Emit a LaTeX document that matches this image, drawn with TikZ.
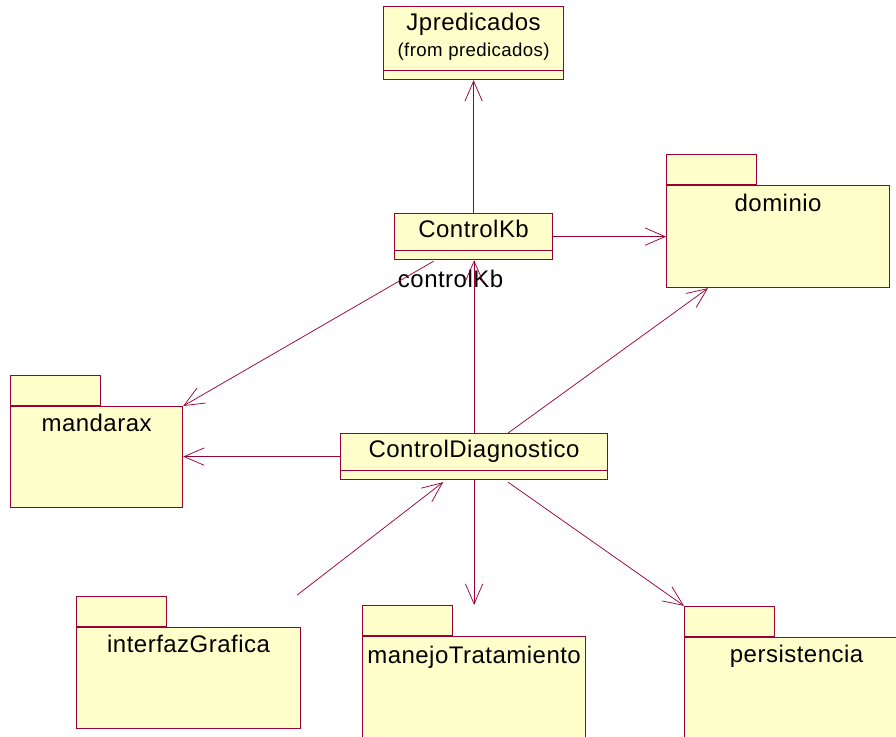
\documentclass[tikz,border=0pt]{standalone}
\usepackage{fontspec}
\setmainfont[LetterSpace=2]{Liberation Sans}
\usetikzlibrary{arrows.meta, calc}
\definecolor{roseline}{RGB}{153,0,51}
\definecolor{rosefill}{RGB}{255,255,204}
\tikzset{classbox/.style 2 args={draw=roseline, fill=rosefill, line width=0.9pt, inner sep=0pt, anchor=north west, minimum width=#1*0.75pt, minimum height=#2*0.75pt}}
\tikzset{pkgbody/.style 2 args={classbox={#1}{#2}}}
\tikzset{pkgtab/.style={draw=roseline, fill=rosefill, line width=0.9pt, inner sep=0pt, anchor=south west, minimum width=90*0.75pt, minimum height=30*0.75pt}}
\tikzset{sep/.style={draw=roseline, line width=0.7pt}}
\tikzset{dep/.style={draw=roseline, line width=0.55pt, -{Straight Barb[length=15pt, width=13pt]}}}
\tikzset{umltext/.style={font=\fontsize{18}{21}\selectfont, anchor=base, inner sep=0pt}}
\tikzset{fromtext/.style={font=\fontsize{14}{16}\selectfont, anchor=base, inner sep=0pt}}

\begin{document}
\begin{tikzpicture}[x=0.75pt, y=-0.75pt]
            \clip (0,0) rectangle (896,736);
            % classes
            \node[classbox={180}{73}] (jpred) at (383,6) {};
            \draw[sep] ($(jpred.south west)+(0,-10)$) -- ($(jpred.south east)+(0,-10)$);
            \node[umltext] (jpredtxt) at ($(jpred.north)+(0,24)$) {Jpredicados};
            \node[fromtext] (jpredfrom) at ($(jpred.north)+(0,50)$) {(from predicados)};
            \node[classbox={158}{46}] (ckb) at (394,213) {};
            \draw[sep] ($(ckb.south west)+(0,-10)$) -- ($(ckb.south east)+(0,-10)$);
            \node[umltext] (ckbtxt) at ($(ckb.north)+(0,24)$) {ControlKb};
            \node[classbox={267}{46}] (cdiag) at (340,433) {};
            \draw[sep] ($(cdiag.south west)+(0,-10)$) -- ($(cdiag.south east)+(0,-10)$);
            \node[umltext] (cdiagtxt) at ($(cdiag.north)+(0,24)$) {ControlDiagnostico};
            % packages
            \node[pkgtab] (domtab) at (666,185) {};
            \node[pkgbody={223}{102}] (dom) at (666,185) {};
            \node[umltext] (domtxt) at ($(dom.north)+(0,26)$) {dominio};
            \node[pkgtab] (mantab) at (10,406) {};
            \node[pkgbody={172}{101}] (man) at (10,406) {};
            \node[umltext] (mantxt) at ($(man.north)+(0,25)$) {mandarax};
            \node[pkgtab] (igtab) at (76,627) {};
            \node[pkgbody={224}{101}] (ig) at (76,627) {};
            \node[umltext] (igtxt) at ($(ig.north)+(0,25)$) {interfazGrafica};
            \node[pkgtab] (mtab) at (362,636) {};
            \node[pkgbody={223}{101}] (mt) at (362,636) {};
            \node[umltext] (mttxt) at ($(mt.north)+(0,27)$) {manejoTratamiento};
            \node[pkgtab] (ptab) at (684,637) {};
            \node[pkgbody={224}{101}] (pers) at (684,637) {};
            \node[umltext] (perstxt) at ($(pers.north)+(0,25)$) {persistencia};
            % dependencies
            \node[umltext] (ckbrole) at ($(ckb.south)+(-23,27)$) {controlKb};
            \draw[dep] (ckb.north) -- (ckb.north |- jpred.south);
            \draw[dep] (ckb.east) -- (ckb.east -| dom.west);
            \draw[dep] ($(ckb.south)+(-40,1)$) -- (man.north east);
            \draw[dep] (cdiag.north) -- (cdiag.north |- ckb.south);
            \draw[dep] ($(cdiag.north)+(34,0)$) -- ($(dom.south west)+(42,0)$);
            \draw[dep] (cdiag.west) -- (cdiag.west -| man.east);
            \coordinate (igstart) at ($(ig.north east)+(-4,-32)$);
            \draw[dep] (igstart) -- ($(cdiag.south)+(-31,2)$);
            \draw[dep] (cdiag.south) -- (cdiag.south |- mtab.north);
            \draw[dep] ($(cdiag.south)+(34,2)$) -- (ptab.north west);
        \end{tikzpicture}
\end{document}
